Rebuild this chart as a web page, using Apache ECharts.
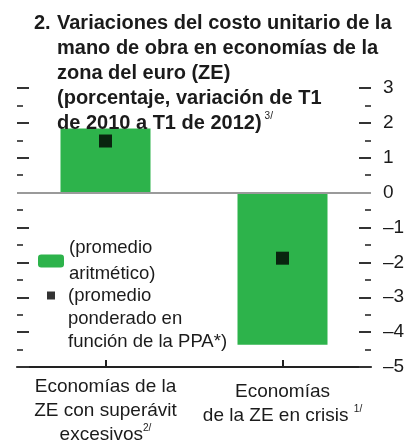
<!DOCTYPE html>
<html>
<head>
<meta charset="utf-8">
<script src="https://cdn.jsdelivr.net/npm/echarts@6/dist/echarts.min.js"></script>
<style>
  html, body { margin: 0; padding: 0; background: #fff; }
  #chart { width: 408px; height: 443px; }
</style>
</head>
<body>
<div id="chart"></div>
<script>
// Categories (footnote marks rendered as superscripts)
const categories = [
  'Economías de la\nZE con superávit\nexcesivos{sup|2/}',
  'Economías\nde la ZE en crisis {sup|1/}'
];
// Extra top offset of each category label, px
const labelOffsets = [0, 5];
// Arithmetic average change, percent
const arithmeticAvg = [1.84, -4.36];
// PPP-weighted average change, percent
const pppWeightedAvg = [1.48, -1.88];
// Value axis range and step
const axisMin = -5;
const axisMax = 3;
const axisStep = 1;

const barName = '(promedio\naritmético)';
const dotName = '(promedio\nponderado en\nfunción de la PPA*)';

const FONT = "'Liberation Sans', Arial, sans-serif";
const INK = '#1b1b1b';
const GREEN = '#2db34b';

const chart = echarts.init(document.getElementById('chart'), null, { renderer: 'canvas' });

const valueAxisBase = {
  type: 'value',
  min: axisMin,
  max: axisMax,
  interval: axisStep,
  splitLine: { show: false },
  axisLine: { show: false },
  axisTick: { show: true, inside: true, length: 12, lineStyle: { color: '#333', width: 2 } },
  minorTick: { show: true, splitNumber: 2, length: 6, lineStyle: { color: '#555', width: 2 } }
};

chart.setOption({
  animation: false,
  textStyle: { fontFamily: FONT },
  title: [
    {
      text: '2.',
      left: 34, top: 11, padding: 0,
      textStyle: { fontFamily: FONT, fontSize: 20, fontWeight: 'bold', color: INK, lineHeight: 25 }
    },
    {
      text: 'Variaciones del costo unitario de la\nmano de obra en economías de la\nzona del euro (ZE)\n(porcentaje, variación de T1\nde 2010 a T1 de 2012){sup|3/}',
      left: 57, top: 11, padding: 0,
      textStyle: {
        fontFamily: FONT, fontSize: 20, fontWeight: 'bold', color: INK, lineHeight: 25,
        rich: {
          sup: { fontFamily: FONT, fontSize: 10, fontWeight: 'normal', color: INK, verticalAlign: 'top', padding: [0, 0, 10, 3] }
        }
      }
    }
  ],
  legend: [
    {
      data: [barName],
      left: 38, top: 235, padding: 0,
      orient: 'vertical',
      itemWidth: 26, itemHeight: 13,
      selectedMode: false,
      textStyle: { fontFamily: FONT, fontSize: 18.5, color: INK, lineHeight: 26 }
    },
    {
      data: [dotName],
      left: 47, top: 238, padding: 0,
      orient: 'vertical',
      itemWidth: 8, itemHeight: 8,
      selectedMode: false,
      // two leading empty lines keep the marker level with the first text line
      formatter: name => '\n\n' + name,
      textStyle: { fontFamily: FONT, fontSize: 18.5, color: INK, lineHeight: 23, padding: [0, 0, 0, 8] }
    }
  ],
  grid: { left: 17, right: 37, top: 88, bottom: 76, containLabel: false, outerBoundsMode: 'none' },
  xAxis: {
    type: 'category',
    data: categories.map((c, i) => ({ value: c, textStyle: { padding: [labelOffsets[i], 0, 0, 0] } })),
    axisLine: { onZero: false, lineStyle: { color: '#222', width: 2 } },
    axisTick: { show: true, inside: true, alignWithLabel: true, length: 7, lineStyle: { color: '#222', width: 2 } },
    axisLabel: {
      interval: 0,
      margin: 8,
      fontFamily: FONT, fontSize: 19, color: INK, lineHeight: 24,
      rich: {
        sup: { fontFamily: FONT, fontSize: 10, color: INK, verticalAlign: 'top', padding: [0, 0, 10, 0] }
      }
    }
  },
  yAxis: [
    Object.assign({}, valueAxisBase, {
      position: 'right',
      axisLabel: {
        margin: 12,
        fontFamily: FONT, fontSize: 19, color: INK,
        formatter: v => String(v).replace('-', '\u2013')
      }
    }),
    Object.assign({}, valueAxisBase, {
      position: 'left',
      axisLabel: { show: false }
    })
  ],
  series: [
    {
      name: barName,
      type: 'bar',
      data: arithmeticAvg,
      barWidth: 90,
      itemStyle: { color: GREEN },
      markLine: {
        silent: true,
        symbol: 'none',
        label: { show: false },
        lineStyle: { color: '#9a9a9a', width: 2, type: 'solid' },
        data: [{ yAxis: 0 }]
      },
      z: 2
    },
    {
      name: dotName,
      type: 'scatter',
      data: pppWeightedAvg,
      symbol: 'rect',
      symbolSize: 13,
      itemStyle: { color: '#000' },
      z: 5
    }
  ]
});
</script>
</body>
</html>
